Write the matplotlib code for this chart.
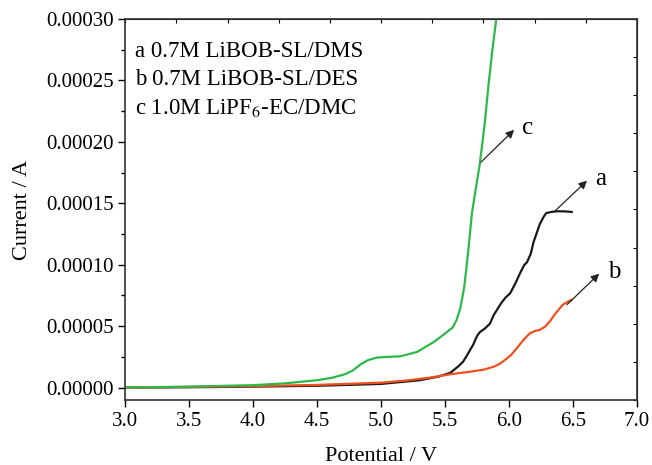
import numpy as np
import matplotlib
matplotlib.use('Agg')
import matplotlib.pyplot as plt

plt.rcParams['font.family'] = ['Liberation Serif', 'DejaVu Serif']
plt.rcParams['mathtext.fontset'] = 'stix'

# curve a : 0.7M LiBOB-SL/DMS (black)
va = [3.0, 3.5, 4.0, 4.5, 5.0, 5.3, 5.45, 5.54, 5.6, 5.64, 5.67, 5.72, 5.75, 5.77, 5.81, 5.85, 5.88, 5.91,
      5.94, 5.97, 6.01, 6.05, 6.09, 6.12, 6.14, 6.17, 6.19, 6.22, 6.24, 6.27, 6.29, 6.33, 6.37, 6.43, 6.49]
ia = [0.0, 0.3e-6, 0.8e-6, 1.5e-6, 3.0e-6, 6.0e-6, 9.0e-6, 1.2e-5, 1.7e-5, 2.1e-5, 2.6e-5, 3.5e-5, 4.2e-5, 4.5e-5, 4.8e-5, 5.2e-5, 5.9e-5, 6.4e-5,
      6.9e-5, 7.3e-5, 7.7e-5, 8.5e-5, 9.4e-5, 1.0e-4, 1.02e-4, 1.09e-4, 1.18e-4, 1.27e-4, 1.33e-4, 1.39e-4, 1.42e-4, 1.43e-4, 1.435e-4, 1.435e-4, 1.43e-4]

# curve b : 0.7M LiBOB-SL/DES (orange)
vb = [3.0, 3.5, 4.0, 4.5, 5.0, 5.2, 5.38, 5.55, 5.7, 5.8, 5.88, 5.93, 5.98, 6.02, 6.06, 6.11,
      6.16, 6.2, 6.24, 6.28, 6.32, 6.36, 6.42, 6.46, 6.49]
ib = [0.0, 0.6e-6, 1.2e-6, 2.2e-6, 4.0e-6, 5.8e-6, 8.1e-6, 1.1e-5, 1.3e-5, 1.46e-5, 1.7e-5, 1.95e-5, 2.35e-5, 2.7e-5, 3.2e-5, 3.85e-5,
      4.4e-5, 4.6e-5, 4.7e-5, 4.95e-5, 5.4e-5, 6.0e-5, 6.75e-5, 7.0e-5, 7.15e-5]

# curve c : 1.0M LiPF6-EC/DMC (green)
vc = [3.0, 3.5, 4.0, 4.25, 4.5, 4.62, 4.72, 4.78, 4.84, 4.9, 4.97, 5.05, 5.15, 5.28, 5.41,
      5.5, 5.56, 5.59, 5.62, 5.65, 5.68, 5.71, 5.74, 5.77, 5.81, 5.84, 5.87, 5.9, 5.92]
ic = [0.0, 0.8e-6, 2.0e-6, 3.5e-6, 6.0e-6, 8.1e-6, 1.1e-5, 1.4e-5, 1.9e-5, 2.25e-5, 2.45e-5, 2.5e-5, 2.55e-5, 2.9e-5, 3.7e-5,
      4.4e-5, 4.9e-5, 5.5e-5, 6.5e-5, 8.2e-5, 1.1e-4, 1.42e-4, 1.62e-4, 1.81e-4, 2.15e-4, 2.47e-4, 2.75e-4, 3.0e-4, 3.15e-4]

labels = ['a 0.7M LiBOB-SL/DMS', 'b 0.7M LiBOB-SL/DES', 'c 1.0M LiPF$_6$-EC/DMC']

fig = plt.figure(figsize=(6.52, 4.65), dpi=100)
ax = fig.add_axes([0.192, 0.14, 0.785, 0.819])

ax.plot(va, ia, color='#1a1a1a', lw=1.6)
ax.plot(vb, ib, color='#f0501e', lw=1.6)
ax.plot(vc, ic, color='#2db84b', lw=1.6)

ymin, ymax = -0.00001, 0.0003
ax.set_xlim(3.0, 7.0)
ax.set_ylim(ymin, ymax)
ax.set_xticks(np.arange(3.0, 7.01, 0.5))
ax.set_xticklabels(['%.1f' % v for v in np.arange(3.0, 7.01, 0.5)])
ax.set_yticks(np.arange(0, 0.00031, 0.00005))
ax.set_yticklabels(['%.5f' % v for v in np.arange(0, 0.00031, 0.00005)])
ax.set_yticks(np.arange(0.000025, 0.0003, 0.00005), minor=True)
ax.tick_params(axis='both', which='major', direction='out', length=5, width=1, labelsize=15)
ax.tick_params(axis='y', which='minor', direction='out', length=3, width=1)
for s in ax.spines.values():
    s.set_linewidth(1.2)
    s.set_color('#333333')

top = ax.secondary_xaxis('top')
top.set_xticks(np.linspace(3.0, 7.0, 11))
top.tick_params(direction='in', length=3, labeltop=False)
right = ax.secondary_yaxis('right')
right.set_yticks(np.linspace(ymin, ymax, 11))
right.tick_params(direction='in', length=3, labelright=False)

ax.set_xlabel('Potential / V', fontsize=16, labelpad=12)
ax.set_ylabel('Current / A', fontsize=16, labelpad=10)

for k, t in enumerate(labels):
    ax.text(0.02, 0.915 - k * 0.074, t, transform=ax.transAxes, fontsize=16.5, va='center')

arrows = [('c', 5.766, 1.82e-4, 6.055, 2.114e-4),
          ('a', 6.336, 1.415e-4, 6.625, 1.70e-4),
          ('b', 6.4375, 6.6e-5, 6.72, 9.43e-5)]
for name, x0, y0, x1, y1 in arrows:
    ax.annotate('', xy=(x1, y1), xytext=(x0, y0),
                arrowprops=dict(arrowstyle='-|>', color='#222222', lw=0.9, mutation_scale=12))
    ax.text(x1 + 0.05, y1, name, fontsize=18, va='center', ha='left')

fig.savefig('out.png', dpi=100)
